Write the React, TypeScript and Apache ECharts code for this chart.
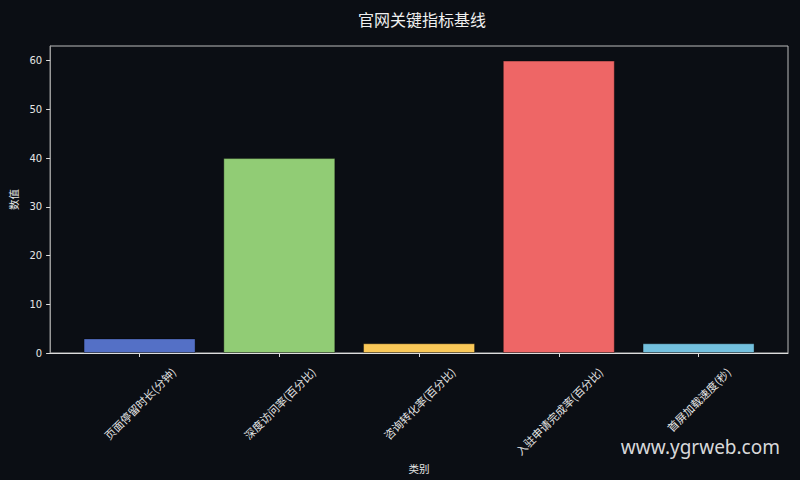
import React, { useEffect, useRef } from 'react';
import * as echarts from 'echarts';

const categories = [
  '页面停留时长(分钟)',
  '深度访问率(百分比)',
  '咨询转化率(百分比)',
  '入驻申请完成率(百分比)',
  '首屏加载速度(秒)',
];
const values = [3, 40, 2, 60, 2];
const barColors = ['#5470c6', '#91cc75', '#fac858', '#ee6666', '#73c0de'];
const yTicks = [0, 10, 20, 30, 40, 50, 60];

const FONT = 'DejaVu Sans, "Noto Sans CJK SC", sans-serif';
const LABEL_FONT = '"Noto Sans CJK SC", sans-serif';
const TEXT = '#e6e6e6';
const LABEL_SIZE = 11;

// matplotlib-style rotated labels: bounding box centred on tick, top aligned
const labelPads = (): number[] => {
  const ctx = document.createElement('canvas').getContext('2d');
  const h = 10;
  const m = 10;
  return categories.map((c) => {
    let L = c.length * LABEL_SIZE;
    if (ctx) {
      ctx.font = `${LABEL_SIZE}px ${LABEL_FONT}`;
      L = ctx.measureText(c).width;
    }
    const p = (13 + (L + h) * 0.3536 - m) / 0.7071;
    return Math.max(0, p);
  });
};

const App: React.FC = () => {
  const chartRef = useRef<HTMLDivElement>(null);

  useEffect(() => {
    if (!chartRef.current) return;
    const chart = echarts.init(chartRef.current, undefined, { renderer: 'svg' });

    const pads = labelPads();
    const rich: Record<string, any> = {};
    pads.forEach((p, i) => {
      rich['s' + i] = {
        color: TEXT,
        fontSize: LABEL_SIZE,
        fontFamily: LABEL_FONT,
        padding: [p, p, 0, 0],
      };
    });

    const option: any = {
      animation: false,
      backgroundColor: '#0b0e14',
      textStyle: { fontFamily: FONT },
      title: {
        text: '官网关键指标基线',
        left: 353,
        top: 6,
        textStyle: { color: '#f0f0f0', fontSize: 16, fontWeight: 'normal', fontFamily: LABEL_FONT },
      },
      grid: {
        left: 46,
        right: 12,
        top: 46,
        bottom: 127,
        show: true,
        borderColor: '#bbbbbb',
        borderWidth: 1,
      },
      xAxis: {
        type: 'value',
        min: -0.64,
        max: 4.64,
        name: '类别',
        nameLocation: 'middle',
        nameGap: 103,
        nameTextStyle: { color: TEXT, fontSize: 10.5, fontFamily: LABEL_FONT },
        axisLine: { show: true, onZero: false, lineStyle: { color: '#dddddd', width: 1 } },
        axisTick: { show: true, length: 4, lineStyle: { color: '#dddddd' }, customValues: [0, 1, 2, 3, 4] },
        axisLabel: {
          color: TEXT,
          fontSize: LABEL_SIZE,
          rotate: 45,
          margin: 10,
          align: 'center',
          verticalAlign: 'middle',
          customValues: [0, 1, 2, 3, 4],
          formatter: (v: number) => {
            const i = Math.round(v);
            return categories[i] ? `{s${i}|${categories[i]}}` : '';
          },
          rich,
        },
        splitLine: { show: false },
      },
      yAxis: {
        type: 'value',
        min: 0,
        max: 63,
        name: '数值',
        nameLocation: 'middle',
        nameGap: 31,
        nameTextStyle: { color: TEXT, fontSize: 10.5, fontFamily: LABEL_FONT },
        axisLine: { show: true, onZero: false, lineStyle: { color: '#999999', width: 1 } },
        axisTick: { show: true, length: 4, lineStyle: { color: '#dddddd' }, customValues: yTicks },
        axisLabel: { color: TEXT, fontSize: 10, margin: 8, customValues: yTicks },
        splitLine: { show: false },
      },
      series: [
        {
          type: 'bar',
          barWidth: 112,
          data: values.map((v, i) => ({
            value: [i, v],
            itemStyle: { color: barColors[i], borderColor: 'rgba(0,0,0,0.35)', borderWidth: 1 },
          })),
        },
      ],
      graphic: [
        {
          type: 'text',
          right: 20,
          top: 437,
          style: {
            text: 'www.ygrweb.com',
            fill: 'rgba(255,255,255,0.85)',
            fontSize: 19,
            fontFamily: '"Noto Sans", sans-serif',
          },
        },
      ],
    };

    chart.setOption(option);
    return () => chart.dispose();
  }, []);

  return (
    <div
      ref={chartRef}
      style={{ position: 'absolute', left: 0, top: 0, width: 800, height: 480 }}
    />
  );
};

export default App;
